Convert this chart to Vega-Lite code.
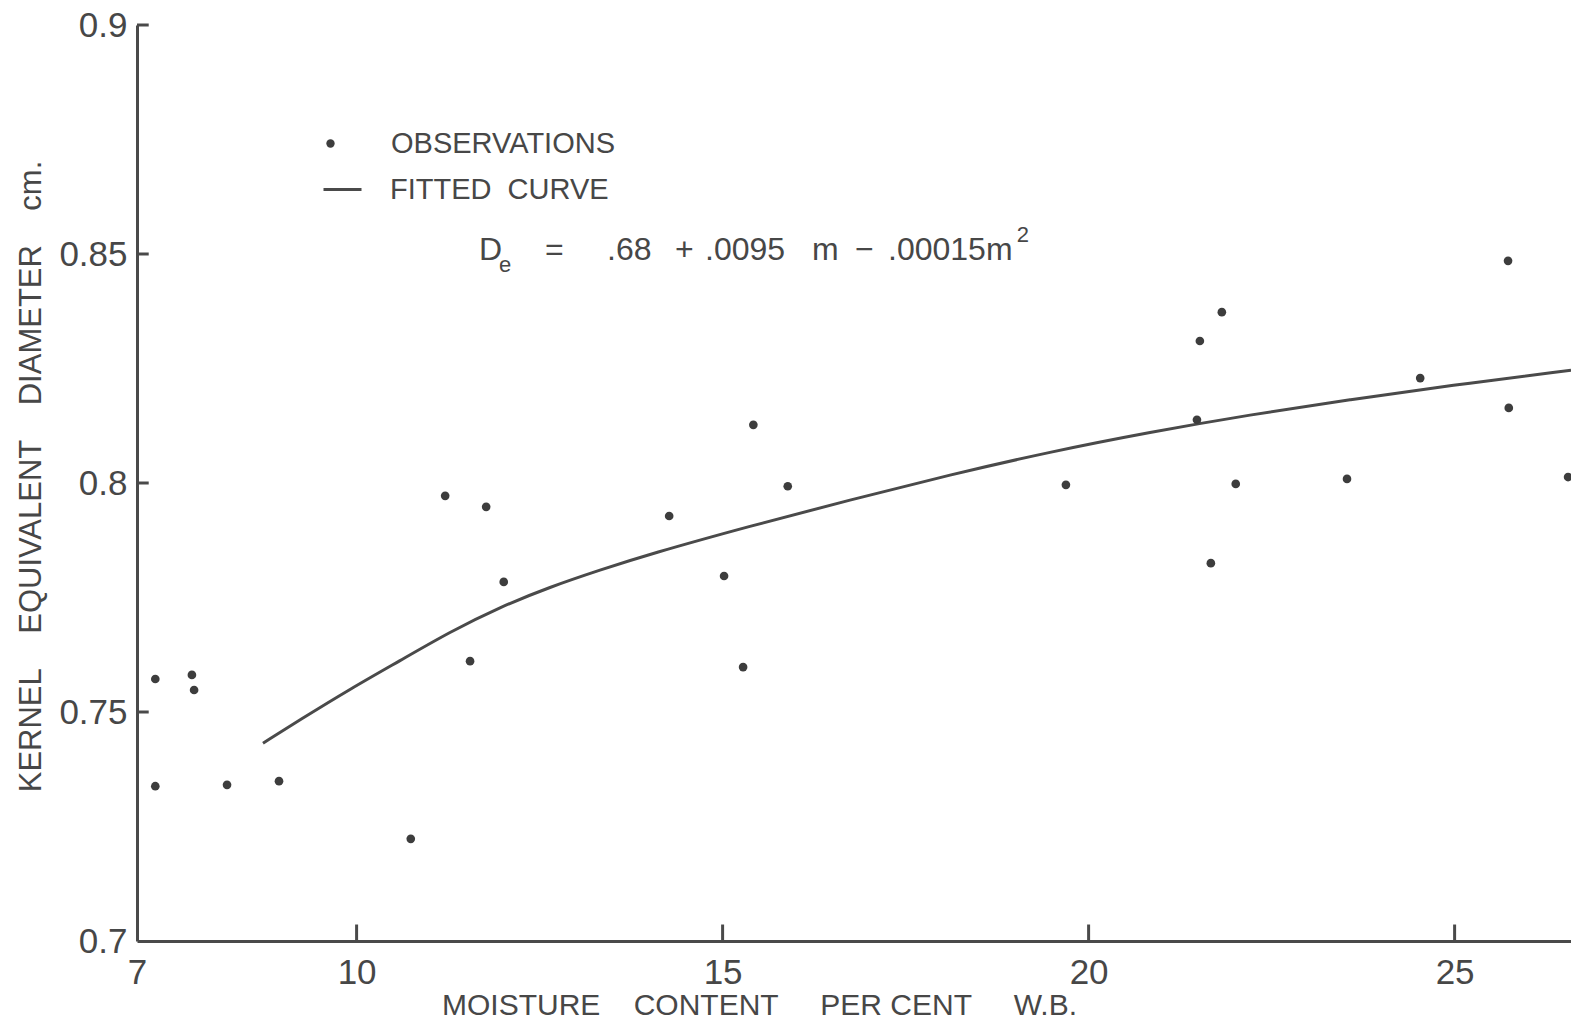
{
  "$schema": "https://vega.github.io/schema/vega-lite/v6.json",
  "width": 1434,
  "height": 916,
  "autosize": {"type": "none"},
  "padding": {"left": 137, "top": 25, "right": 0, "bottom": 82},
  "background": "white",
  "config": {
    "view": {"stroke": null},
    "font": "Liberation Sans",
    "axis": {"grid": false, "ticks": false, "labelFont": "Liberation Sans", "titleFont": "Liberation Sans", "labelColor": "#474747", "titleColor": "#474747", "domainColor": "#4a4a4a", "domainWidth": 3, "titleFontWeight": "normal", "labelOverlap": false},
    "legend": {"padding": 0, "labelFont": "Liberation Sans", "labelFontSize": 29, "labelColor": "#474747", "labelLimit": 0, "title": null}
  },
  "datasets": {
    "obs": [
      {"m": 7.25, "d": 0.7572, "series": "OBSERVATIONS"},
      {"m": 7.25, "d": 0.7338, "series": "OBSERVATIONS"},
      {"m": 7.75, "d": 0.7581, "series": "OBSERVATIONS"},
      {"m": 7.78, "d": 0.7548, "series": "OBSERVATIONS"},
      {"m": 8.23, "d": 0.7341, "series": "OBSERVATIONS"},
      {"m": 8.94, "d": 0.7349, "series": "OBSERVATIONS"},
      {"m": 10.74, "d": 0.7223, "series": "OBSERVATIONS"},
      {"m": 11.21, "d": 0.7972, "series": "OBSERVATIONS"},
      {"m": 11.55, "d": 0.7611, "series": "OBSERVATIONS"},
      {"m": 11.77, "d": 0.7948, "series": "OBSERVATIONS"},
      {"m": 12.01, "d": 0.7784, "series": "OBSERVATIONS"},
      {"m": 14.27, "d": 0.7928, "series": "OBSERVATIONS"},
      {"m": 15.02, "d": 0.7797, "series": "OBSERVATIONS"},
      {"m": 15.28, "d": 0.7598, "series": "OBSERVATIONS"},
      {"m": 15.42, "d": 0.8127, "series": "OBSERVATIONS"},
      {"m": 15.89, "d": 0.7993, "series": "OBSERVATIONS"},
      {"m": 19.69, "d": 0.7996, "series": "OBSERVATIONS"},
      {"m": 21.48, "d": 0.8138, "series": "OBSERVATIONS"},
      {"m": 21.52, "d": 0.831, "series": "OBSERVATIONS"},
      {"m": 21.82, "d": 0.8373, "series": "OBSERVATIONS"},
      {"m": 21.67, "d": 0.7825, "series": "OBSERVATIONS"},
      {"m": 22.01, "d": 0.7998, "series": "OBSERVATIONS"},
      {"m": 23.53, "d": 0.8009, "series": "OBSERVATIONS"},
      {"m": 24.53, "d": 0.8229, "series": "OBSERVATIONS"},
      {"m": 25.73, "d": 0.8485, "series": "OBSERVATIONS"},
      {"m": 25.74, "d": 0.8164, "series": "OBSERVATIONS"},
      {"m": 26.55, "d": 0.8013, "series": "OBSERVATIONS"}
    ],
    "curve": [
      {"m": 8.721, "d": 0.7432, "series": "FITTED CURVE"},
      {"m": 9.227, "d": 0.7483, "series": "FITTED CURVE"},
      {"m": 9.91, "d": 0.755, "series": "FITTED CURVE"},
      {"m": 10.593, "d": 0.7612, "series": "FITTED CURVE"},
      {"m": 11.276, "d": 0.7675, "series": "FITTED CURVE"},
      {"m": 11.959, "d": 0.7729, "series": "FITTED CURVE"},
      {"m": 12.642, "d": 0.7773, "series": "FITTED CURVE"},
      {"m": 13.325, "d": 0.781, "series": "FITTED CURVE"},
      {"m": 14.008, "d": 0.7845, "series": "FITTED CURVE"},
      {"m": 15.374, "d": 0.7906, "series": "FITTED CURVE"},
      {"m": 16.74, "d": 0.7963, "series": "FITTED CURVE"},
      {"m": 18.107, "d": 0.8018, "series": "FITTED CURVE"},
      {"m": 19.473, "d": 0.8068, "series": "FITTED CURVE"},
      {"m": 20.839, "d": 0.8111, "series": "FITTED CURVE"},
      {"m": 22.205, "d": 0.8149, "series": "FITTED CURVE"},
      {"m": 23.571, "d": 0.8182, "series": "FITTED CURVE"},
      {"m": 24.937, "d": 0.8213, "series": "FITTED CURVE"},
      {"m": 26.59, "d": 0.8246, "series": "FITTED CURVE"}
    ],
    "xticks": [{"v": 10}, {"v": 15}, {"v": 20}, {"v": 25}],
    "yticks": [{"v": 0.75}, {"v": 0.8}, {"v": 0.85}, {"v": 0.9}],
    "eq": [
      {"m": 11.672, "d": 0.8487, "t": "D"},
      {"m": 12.574, "d": 0.8487, "t": "="},
      {"m": 13.421, "d": 0.8487, "t": ".68"},
      {"m": 14.35, "d": 0.8487, "t": "+"},
      {"m": 14.76, "d": 0.8487, "t": ".0095"},
      {"m": 16.221, "d": 0.8487, "t": "m"},
      {"m": 16.809, "d": 0.8487, "t": "\u2212"},
      {"m": 17.26, "d": 0.8487, "t": ".00015m"}
    ],
    "eqsmall": [
      {"m": 11.945, "d": 0.8461, "t": "e"},
      {"m": 19.02, "d": 0.8526, "t": "2"}
    ]
  },
  "layer": [
    {
      "data": {"name": "curve"},
      "mark": {"type": "line", "strokeWidth": 3, "interpolate": "basis", "clip": true},
      "encoding": {
        "x": {
          "field": "m", "type": "quantitative",
          "scale": {"domain": [7, 26.59], "nice": false, "zero": false},
          "axis": {
            "values": [7, 10, 15, 20, 25], "format": "d",
            "labelPadding": 14, "labelFontSize": 35, "labelFlush": false,
            "title": "MOISTURE\u00a0\u00a0\u00a0\u00a0CONTENT\u00a0\u00a0\u00a0\u00a0\u00a0PER\u00a0CENT\u00a0\u00a0\u00a0\u00a0\u00a0W.B.",
            "titleFontSize": 30, "titleX": 622, "titleY": 64, "titleBaseline": "middle", "titleAlign": "center"
          }
        },
        "y": {
          "field": "d", "type": "quantitative",
          "scale": {"domain": [0.7, 0.9], "nice": false, "zero": false},
          "axis": {
            "values": [0.7, 0.75, 0.8, 0.85, 0.9], "format": "~g",
            "labelPadding": 10, "labelFontSize": 35,
            "title": "KERNEL\u00a0\u00a0\u00a0\u00a0EQUIVALENT\u00a0\u00a0\u00a0\u00a0DIAMETER\u00a0\u00a0\u00a0\u00a0cm.",
            "titleFontSize": 31, "titleX": -106, "titleY": 451, "titleAngle": -90, "titleBaseline": "middle", "titleAlign": "center"
          }
        },
        "color": {
          "field": "series", "type": "nominal",
          "scale": {"domain": ["FITTED CURVE"], "range": ["#4a4a4a"]},
          "legend": {
            "orient": "none", "legendX": 185, "legendY": 144,
            "symbolType": "stroke", "symbolSize": 1444, "symbolStrokeWidth": 3, "labelOffset": 27,
            "labelExpr": "'FITTED\u00a0\u00a0CURVE'"
          }
        }
      }
    },
    {
      "data": {"name": "xticks"},
      "mark": {"type": "rule", "color": "#4a4a4a", "strokeWidth": 3},
      "encoding": {
        "x": {"field": "v", "type": "quantitative"},
        "y": {"datum": 0.7},
        "y2": {"datum": 0.7036}
      }
    },
    {
      "data": {"name": "yticks"},
      "mark": {"type": "rule", "color": "#4a4a4a", "strokeWidth": 3},
      "encoding": {
        "y": {"field": "v", "type": "quantitative"},
        "x": {"datum": 7},
        "x2": {"datum": 7.16}
      }
    },
    {
      "data": {"name": "obs"},
      "mark": {"type": "point", "filled": true, "color": "#3d3d3d", "size": 75, "opacity": 1, "clip": true},
      "encoding": {
        "x": {"field": "m", "type": "quantitative"},
        "y": {"field": "d", "type": "quantitative"},
        "shape": {
          "field": "series", "type": "nominal",
          "scale": {"domain": ["OBSERVATIONS"], "range": ["circle"]},
          "legend": {
            "orient": "none", "legendX": 179, "legendY": 104,
            "symbolSize": 70, "labelOffset": 46
          }
        }
      }
    },
    {
      "data": {"name": "eq"},
      "mark": {"type": "text", "align": "left", "baseline": "alphabetic", "fontSize": 32, "font": "Liberation Sans", "color": "#474747"},
      "encoding": {
        "x": {"field": "m", "type": "quantitative"},
        "y": {"field": "d", "type": "quantitative"},
        "text": {"field": "t"}
      }
    },
    {
      "data": {"name": "eqsmall"},
      "mark": {"type": "text", "align": "left", "baseline": "alphabetic", "fontSize": 22, "font": "Liberation Sans", "color": "#474747"},
      "encoding": {
        "x": {"field": "m", "type": "quantitative"},
        "y": {"field": "d", "type": "quantitative"},
        "text": {"field": "t"}
      }
    }
  ]
}
